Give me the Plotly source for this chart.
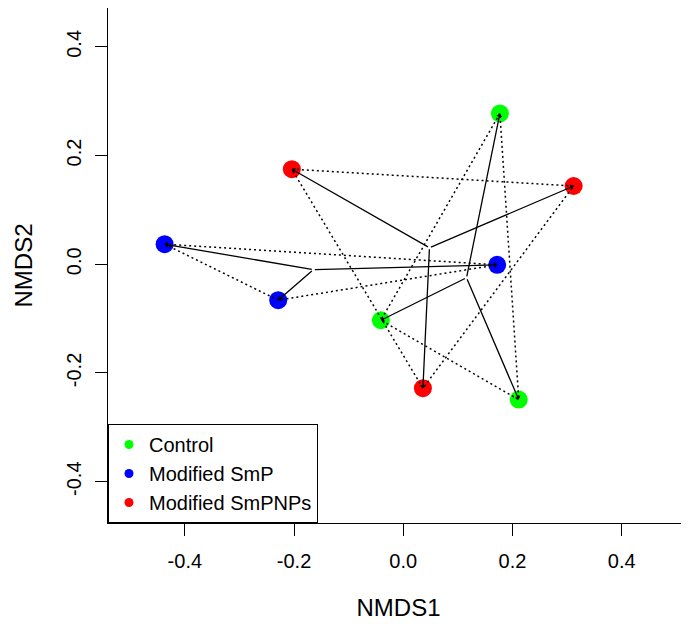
import plotly.graph_objects as go

# ---- data ----
groups = ["Control", "Modified SmP", "Modified SmPNPs"]
colors = ["#00FF00", "#0000FF", "#FF0000"]

control_x = [0.177, -0.041, 0.2115]
control_y = [0.2775, -0.103, -0.249]
smp_x = [-0.437, -0.229, 0.172]
smp_y = [0.037, -0.066, -0.001]
smpnps_x = [-0.204, 0.312, 0.036]
smpnps_y = [0.175, 0.144, -0.228]

xs = [control_x, smp_x, smpnps_x]
ys = [control_y, smp_y, smpnps_y]

x_ticks = [-0.4, -0.2, 0.0, 0.2, 0.4]
y_ticks = [-0.4, -0.2, 0.0, 0.2, 0.4]

FONT = "Liberation Sans, Arial, sans-serif"

fig = go.Figure()

# points
for g, c, gx, gy in zip(groups, colors, xs, ys):
    fig.add_trace(go.Scatter(x=gx, y=gy, mode="markers",
                             marker=dict(size=18, color=c, line=dict(width=0)),
                             showlegend=False, hoverinfo="skip"))

# dotted hulls (triangles)
for gx, gy in zip(xs, ys):
    fig.add_trace(go.Scatter(x=gx + [gx[0]], y=gy + [gy[0]], mode="lines",
                             line=dict(color="black", width=1.5, dash="2px,3px"),
                             showlegend=False, hoverinfo="skip"))

# spider from centroid with arrows
annotations = []
for gx, gy in zip(xs, ys):
    cx = sum(gx) / len(gx)
    cy = sum(gy) / len(gy)
    for px, py in zip(gx, gy):
        annotations.append(dict(x=px, y=py, ax=cx, ay=cy, xref="x", yref="y",
                                axref="x", ayref="y", text="", showarrow=True,
                                arrowhead=1, arrowsize=0.8, arrowwidth=1.3,
                                arrowcolor="black", standoff=0, startstandoff=0))

# legend entries
for g, c in zip(groups, colors):
    fig.add_trace(go.Scatter(x=[None], y=[None], mode="markers", name=g,
                             marker=dict(size=9, color=c)))

fig.update_layout(
    width=689, height=626,
    margin=dict(l=100, r=8, t=0, b=111),
    paper_bgcolor="white", plot_bgcolor="white",
    font=dict(family=FONT, size=20, color="black"),
    annotations=annotations,
    legend=dict(x=0, y=0, xanchor="left", yanchor="bottom",
                bordercolor="black", borderwidth=1, bgcolor="white",
                font=dict(size=20), itemwidth=30, tracegroupgap=0),
    xaxis=dict(range=[-0.5407, 0.5233], tickvals=x_ticks,
               ticktext=[f"{v:.1f}" for v in x_ticks],
               showgrid=False, zeroline=False, showline=True, mirror=True,
               linecolor="black", linewidth=1, ticks="outside", ticklen=12,
               tickcolor="black", tickwidth=1, ticklabelstandoff=8,
               title=dict(text="NMDS1", standoff=28)),
    yaxis=dict(range=[-0.476, 0.4715], tickvals=y_ticks,
               ticktext=[f"{v:.1f}" for v in y_ticks],
               showgrid=False, zeroline=False, showline=True, mirror=False,
               linecolor="black", linewidth=1, ticks="outside", ticklen=12,
               tickcolor="black", tickwidth=1, tickangle=-90,
               ticklabelstandoff=6,
               title=dict(text="NMDS2", standoff=23)),
)

fig.write_html("out.html")
